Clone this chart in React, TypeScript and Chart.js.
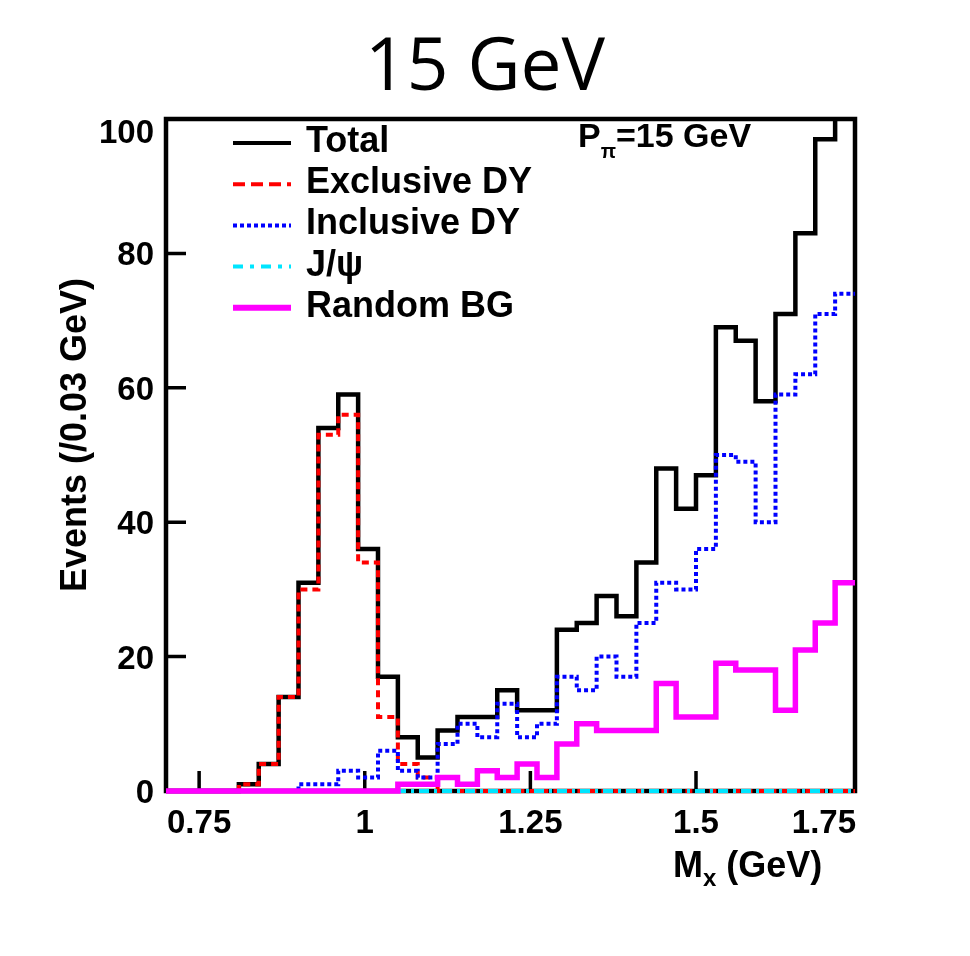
import React, { useEffect, useRef } from "react";
import { Chart, registerables } from "chart.js";

Chart.register(...registerables);

// ---- axis ranges and binning ----
const X_MIN = 0.7;
const X_MAX = 1.74;
const Y_MIN = 0;
const Y_MAX = 100;
const BIN_START = 0.81;
const BIN_WIDTH = 0.03;

// ---- tick labels ----
const xTicks = [0.75, 1, 1.25, 1.5, 1.75];
const xTickLabels = ["0.75", "1", "1.25", "1.5", "1.75"];
const yTicks = [0, 20, 40, 60, 80, 100];
const yTickLabels = ["0", "20", "40", "60", "80", "100"];

// ---- series (events per 0.03 GeV bin, bins starting at BIN_START) ----
const seriesNames = ["Total", "Exclusive DY", "Inclusive DY", "J/ψ", "Random BG"];
const total = [1, 4, 14, 31, 54, 59, 36, 17, 8, 5, 9, 11, 11, 15, 12, 12, 24, 25, 29, 26, 34, 48, 42, 47, 69, 67, 58, 71, 83, 97, 104];
const exclusiveDY = [1, 4, 14, 30, 53, 56, 34, 11, 4, 2, 0, 0, 0, 0, 0, 0, 0, 0, 0, 0, 0, 0, 0, 0, 0, 0, 0, 0, 0, 0, 0];
const inclusiveDY = [0, 0, 0, 1, 1, 3, 2, 6, 3, 2, 7, 10, 8, 13, 8, 10, 17, 15, 20, 17, 25, 31, 30, 36, 50, 49, 40, 59, 62, 71, 74];
const jpsi = [0, 0, 0, 0, 0, 0, 0, 0, 0, 0, 0, 0, 0, 0, 0, 0, 0, 0, 0, 0, 0, 0, 0, 0, 0, 0, 0, 0, 0, 0, 0];
const randomBG = [0, 0, 0, 0, 0, 0, 0, 0, 1, 1, 2, 1, 3, 2, 4, 2, 7, 10, 9, 9, 9, 16, 11, 11, 19, 18, 18, 12, 21, 25, 31];

const seriesColors = ["#000000", "#ff0000", "#0000ff", "#00e5ff", "#ff00ff"];
const seriesWidths = [4.5, 4, 4, 4, 5.5];
const plotDashes: number[][] = [[], [7, 5], [4, 3], [10, 5, 3, 5], []];
const legendDashes: number[][] = [[], [12, 6], [4, 3], [10, 7, 4, 7], []];
const legendWidths = [4, 4, 4, 4, 6];

const FONT = '"Liberation Sans", Arial, Helvetica, sans-serif';

function histPoints(values: number[]) {
  const pts: { x: number; y: number }[] = [{ x: X_MIN, y: 0 }];
  values.forEach((v, i) => pts.push({ x: BIN_START + i * BIN_WIDTH, y: v }));
  pts.push({ x: BIN_START + values.length * BIN_WIDTH, y: values[values.length - 1] });
  return pts;
}

const overlayPlugin = {
  id: "overlay",
  beforeDatasetsDraw(chart: any) {
    const { ctx, chartArea: a, scales } = chart;
    const xs = scales.x;
    const ys = scales.y;
    ctx.save();
    ctx.strokeStyle = "#000";
    ctx.lineWidth = 4.5;
    ctx.strokeRect(a.left, a.top, a.right - a.left, a.bottom - a.top);
    ctx.lineWidth = 3.5;
    ctx.beginPath();
    yTicks.forEach((v) => {
      const y = ys.getPixelForValue(v);
      if (y > a.top + 3 && y < a.bottom - 3) {
        ctx.moveTo(a.left, y);
        ctx.lineTo(a.left + 20, y);
      }
    });
    xTicks.forEach((v) => {
      const x = xs.getPixelForValue(v);
      if (x > a.left + 3 && x < a.right - 3) {
        ctx.moveTo(x, a.bottom);
        ctx.lineTo(x, a.bottom - 20);
      }
    });
    ctx.stroke();
    ctx.restore();
  },
  afterDraw(chart: any) {
    const { ctx, chartArea: a, scales } = chart;
    const xs = scales.x;
    const ys = scales.y;
    ctx.save();
    ctx.fillStyle = "#000";

    // title
    ctx.font = '400 73px "Open Sans", "Noto Sans", sans-serif';
    ctx.textAlign = "center";
    ctx.textBaseline = "alphabetic";
    ctx.fillText("15 GeV", 485, 90);

    // y tick labels
    ctx.font = `bold 33px ${FONT}`;
    ctx.textAlign = "right";
    yTicks.forEach((v, i) => {
      let cy = ys.getPixelForValue(v);
      cy = Math.max(cy, a.top + 12);
      ctx.fillText(yTickLabels[i], 154, cy + 12);
    });

    // x tick labels
    ctx.font = `bold 33px ${FONT}`;
    ctx.textAlign = "left";
    xTicks.forEach((v, i) => {
      const w = ctx.measureText(xTickLabels[i]).width;
      let left = xs.getPixelForValue(v) - w / 2;
      if (left + w > a.right + 1) left = a.right + 1 - w;
      if (left < a.left) left = a.left;
      ctx.fillText(xTickLabels[i], left, 833);
    });

    // x axis title M_x (GeV)
    let x = 673;
    ctx.font = `bold 36px ${FONT}`;
    ctx.fillText("M", x, 877);
    x += ctx.measureText("M").width;
    ctx.font = `bold 24px ${FONT}`;
    ctx.fillText("x", x, 886);
    x += ctx.measureText("x").width;
    ctx.font = `bold 36px ${FONT}`;
    ctx.fillText(" (GeV)", x, 877);

    // y axis title
    ctx.save();
    ctx.translate(86, 435);
    ctx.rotate(-Math.PI / 2);
    ctx.textAlign = "center";
    ctx.font = `bold 36px ${FONT}`;
    ctx.fillText("Events (/0.03 GeV)", 0, 0);
    ctx.restore();

    // P_pi label
    x = 578;
    ctx.textAlign = "left";
    ctx.font = `bold 34px ${FONT}`;
    ctx.fillText("P", x, 147);
    x += ctx.measureText("P").width;
    ctx.font = `bold 20px ${FONT}`;
    ctx.fillText("π", x, 158);
    x += ctx.measureText("π").width;
    ctx.font = `bold 34px ${FONT}`;
    ctx.fillText("=15 GeV", x, 147);

    // legend
    const datasets = chart.data.datasets;
    datasets.forEach((ds: any, i: number) => {
      const base = 152 + i * 41.2;
      const ly = base - 9;
      ctx.save();
      ctx.strokeStyle = seriesColors[i];
      ctx.lineWidth = legendWidths[i];
      ctx.setLineDash(legendDashes[i]);
      ctx.beginPath();
      ctx.moveTo(233, ly);
      ctx.lineTo(291, ly);
      ctx.stroke();
      ctx.restore();
      ctx.font = `bold 36px ${FONT}`;
      ctx.textAlign = "left";
      ctx.fillText(ds.label, 306, base);
    });

    ctx.restore();
  },
};

export default function App() {
  const canvasRef = useRef<HTMLCanvasElement | null>(null);

  useEffect(() => {
    if (!canvasRef.current) return;
    const seriesValues = [total, exclusiveDY, inclusiveDY, jpsi, randomBG];
    const drawOrder = [4, 3, 2, 1, 0];
    const chart = new Chart(canvasRef.current, {
      type: "line",
      data: {
        datasets: seriesValues.map((vals, i) => ({
          label: seriesNames[i],
          data: histPoints(vals),
          borderColor: seriesColors[i],
          backgroundColor: seriesColors[i],
          borderWidth: seriesWidths[i],
          borderDash: plotDashes[i],
          borderCapStyle: "butt",
          borderJoinStyle: "miter",
          stepped: "before",
          pointRadius: 0,
          pointHoverRadius: 0,
          fill: false,
          order: drawOrder[i],
          clip: { left: 0, top: 0, right: 3, bottom: 4 },
        })),
      },
      options: {
        animation: false,
        responsive: false,
        devicePixelRatio: 1,
        layout: { padding: { left: 166, top: 119, right: 115, bottom: 165 } },
        plugins: { legend: { display: false }, tooltip: { enabled: false }, title: { display: false } },
        events: [],
        scales: {
          x: { type: "linear", min: X_MIN, max: X_MAX, display: false },
          y: { type: "linear", min: Y_MIN, max: Y_MAX, display: false },
        },
      },
      plugins: [overlayPlugin],
    } as any);
    return () => chart.destroy();
  }, []);

  return (
    <div style={{ position: "absolute", left: 0, top: 0, width: 970, height: 956, background: "#fff" }}>
      <canvas ref={canvasRef} width={970} height={956} style={{ width: 970, height: 956 }} />
    </div>
  );
}
